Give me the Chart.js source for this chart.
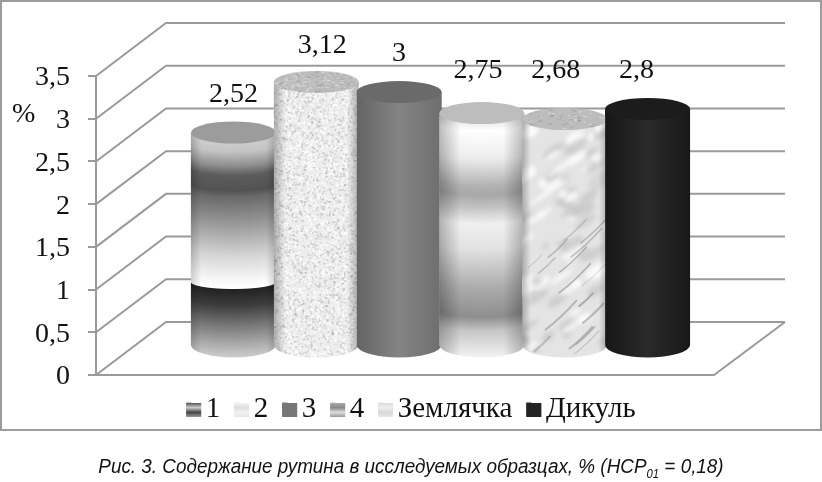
<!DOCTYPE html>
<html lang="ru">
<head>
<meta charset="utf-8">
<title>Содержание рутина</title>
<script src="https://cdn.jsdelivr.net/npm/chart.js@4"></script>
<style>
  html, body { margin: 0; padding: 0; background: #fff; }
  #page { position: relative; width: 822px; height: 482px; overflow: hidden; }
  #frame { position: absolute; left: 0; top: 0; width: 818px; height: 427px; border: 2px solid #9c9c9c; }
  #chart { position: absolute; left: 0; top: 0; }
  #caption {
    position: absolute; left: 0; width: 822px; top: 455px; text-align: center; white-space: nowrap;
    font: italic 20px "Liberation Sans", sans-serif; color: #111;
    transform: scaleX(0.944); transform-origin: 411px 0;
  }
  #caption sub { font-size: 12px; line-height: 0; }
</style>
</head>
<body>
<div id="page">
  <div id="frame"></div>
  <canvas id="chart" width="822" height="482"></canvas>
  <div id="caption">Рис. 3. Содержание рутина в исследуемых образцах, % (НСР<sub>01</sub> = 0,18)</div>
</div>
<script>
// ---------------------------------------------------------------------------
// Data
// ---------------------------------------------------------------------------
const seriesNames = ["1", "2", "3", "4", "Землячка", "Дикуль"];
const seriesValues = [2.52, 3.12, 3, 2.75, 2.68, 2.8];
const flatColors = ["#8a8a8a", "#e6e6e6", "#787878", "#c4c4c4", "#e2e2e2", "#242424"];
const axisMin = 0;
const axisMax = 3.5;
const axisStep = 0.5;

// ---------------------------------------------------------------------------
// 3D look
// ---------------------------------------------------------------------------
const SERIF = '"Liberation Serif", serif';
const GRID = "#9a9a9a";
const DEPTH_X = 70, DEPTH_Y = 53;   // back wall offset from the front axis
const FLOOR_END = 71;               // floor front edge stops this far before the wall end
const TOP_RY = 11, BOTTOM_RY = 12.5;
const BAR_DEPTH = 30;               // cylinders stand this far behind the front axis
const labelShift = [[0, -31], [6, -29], [0, -31], [-4, -35], [-9, -41], [-11, -31]];

// stops are px below the cap centre, measured at the edge of the cylinder
const BANDS_1 = [[0, "#cfcfcf"], [12, "#c4c4c4"], [26, "#8f8f8f"], [36, "#5c5c5c"], [51, "#525252"], [58, "#6a6a6a"],
  [81, "#929292"], [116, "#d4d4d4"], [141, "#f8f8f8"], [149, "#ffffff"], [150, "#222222"], [166, "#3c3c3c"],
  [186, "#777777"], [211, "#bbbbbb"], [226, "#e0e0e0"]];
const BANDS_4 = [[0, "#e4e4e4"], [12, "#ffffff"], [40, "#ececec"], [68, "#b0b0b0"], [76, "#a8a8a8"], [88, "#c2c2c2"],
  [105, "#f0f0f0"], [130, "#e2e2e2"], [170, "#aaaaaa"], [198, "#8e8e8e"], [212, "#c6c6c6"], [238, "#f2f2f2"], [256, "#f6f6f6"]];

function seeded(seed) {
  let s = seed;
  return () => { s = (s * 1664525 + 1013904223) % 4294967296; return s / 4294967296; };
}

function bodyPath(ctx, b) {
  ctx.beginPath();
  ctx.moveTo(b.cx - b.rx, b.top);
  ctx.lineTo(b.cx - b.rx, b.bottom);
  ctx.ellipse(b.cx, b.bottom, b.rx, BOTTOM_RY, 0, Math.PI, 0, true);
  ctx.lineTo(b.cx + b.rx, b.top);
  ctx.closePath();
}

function sideShade(ctx, b, edge, inner) {
  const g = ctx.createLinearGradient(b.cx - b.rx, 0, b.cx + b.rx, 0);
  g.addColorStop(0, `rgba(0,0,0,${edge})`);
  g.addColorStop(inner, "rgba(0,0,0,0)");
  g.addColorStop(1 - inner, "rgba(0,0,0,0)");
  g.addColorStop(1, `rgba(0,0,0,${edge})`);
  ctx.fillStyle = g;
  ctx.fillRect(b.cx - b.rx, b.top - 2, b.rx * 2, b.bottom - b.top + BOTTOM_RY + 4);
}

function paintBands(ctx, b, stops, curve) {
  const span = stops[stops.length - 1][0];
  for (let x = Math.floor(b.cx - b.rx); x < b.cx + b.rx; x++) {
    const u = Math.min(1, Math.abs(x + 0.5 - b.cx) / b.rx);
    const y0 = b.top + curve * Math.sqrt(1 - u * u);
    const g = ctx.createLinearGradient(0, y0, 0, y0 + span);
    stops.forEach(s => g.addColorStop(s[0] / span, s[1]));
    ctx.fillStyle = g;
    ctx.fillRect(x, b.top - 2, 1, b.bottom - b.top + BOTTOM_RY + 4);
  }
}

function paintGranite(ctx, b) {
  ctx.fillStyle = "#ececec";
  ctx.fillRect(b.cx - b.rx, b.top - 2, b.rx * 2, b.bottom - b.top + BOTTOM_RY + 4);
  const rnd = seeded(17);
  ctx.filter = "blur(0.6px)";
  for (let i = 0; i < 5200; i++) {
    const x = b.cx - b.rx + rnd() * b.rx * 2;
    const y = b.top + rnd() * (b.bottom - b.top + BOTTOM_RY);
    const v = rnd();
    ctx.fillStyle = v < 0.4 ? "rgba(165,165,165,0.4)" : "rgba(255,255,255,0.75)";
    ctx.fillRect(x, y, 1 + rnd() * 1.2, 1 + rnd() * 1.2);
  }
  ctx.filter = "none";
  sideShade(ctx, b, 0.28, 0.14);
}

function paintMarble(ctx, b) {
  ctx.fillStyle = "#e4e4e4";
  ctx.fillRect(b.cx - b.rx, b.top - 2, b.rx * 2, b.bottom - b.top + BOTTOM_RY + 4);
  const h = b.bottom - b.top + BOTTOM_RY;
  const rnd = seeded(91);
  ctx.filter = "blur(2px)";
  for (let i = 0; i < 80; i++) {
    const x = b.cx - b.rx + rnd() * b.rx * 2;
    const y = b.top + rnd() * h;
    ctx.fillStyle = rnd() < 0.45 ? "rgba(175,175,175,0.4)" : "rgba(255,255,255,0.75)";
    ctx.beginPath();
    ctx.ellipse(x, y, 4 + rnd() * 10, 2 + rnd() * 4, -0.6, 0, Math.PI * 2);
    ctx.fill();
  }
  ctx.filter = "blur(0.7px)";
  ctx.lineCap = "round";
  for (let i = 0; i < 16; i++) {
    const x = b.cx - b.rx + rnd() * b.rx * 1.6;
    const y = b.top + h * 0.5 + rnd() * h * 0.5;
    const len = 14 + rnd() * 30;
    ctx.strokeStyle = `rgba(140,140,140,${0.3 + rnd() * 0.35})`;
    ctx.lineWidth = 0.8 + rnd() * 1.4;
    ctx.beginPath();
    ctx.moveTo(x, y);
    ctx.quadraticCurveTo(x + len * 0.4, y - len * 0.3, x + len * 0.8, y - len * 0.75);
    ctx.stroke();
  }
  ctx.filter = "none";
  sideShade(ctx, b, 0.25, 0.1);
}

function paintHorizontal(ctx, b, edgeL, mid, edgeR) {
  const g = ctx.createLinearGradient(b.cx - b.rx, 0, b.cx + b.rx, 0);
  g.addColorStop(0, edgeL);
  g.addColorStop(0.5, mid);
  g.addColorStop(1, edgeR);
  ctx.fillStyle = g;
  ctx.fillRect(b.cx - b.rx, b.top - 2, b.rx * 2, b.bottom - b.top + BOTTOM_RY + 4);
}

function capStreaks(ctx, b, seed, count, dark) {
  const rnd = seeded(seed);
  ctx.save();
  ctx.beginPath();
  ctx.ellipse(b.cx, b.top, b.rx, TOP_RY, 0, 0, Math.PI * 2);
  ctx.clip();
  ctx.filter = "blur(0.5px)";
  for (let i = 0; i < count; i++) {
    const x = b.cx - b.rx + rnd() * b.rx * 2;
    const y = b.top - TOP_RY + rnd() * TOP_RY * 2;
    ctx.fillStyle = rnd() < 0.5 ? dark : "rgba(255,255,255,0.35)";
    ctx.fillRect(x, y, 1 + rnd() * 3, 1);
  }
  ctx.restore();
}

const painters = [
  (ctx, b) => { paintBands(ctx, b, BANDS_1, 7); sideShade(ctx, b, 0.18, 0.12); },
  paintGranite,
  (ctx, b) => paintHorizontal(ctx, b, "#646464", "#848484", "#6e6e6e"),
  (ctx, b) => { paintBands(ctx, b, BANDS_4, 6); sideShade(ctx, b, 0.26, 0.25); },
  paintMarble,
  (ctx, b) => paintHorizontal(ctx, b, "#161616", "#2a2a2a", "#181818"),
];
const capColors = ["#9c9c9c", "#bdbdbd", "#6a6a6a", "#bdbdbd", "#bcbcbc", "#1c1c1c"];
const swatchStops = [
  ["#555", "#ccc", "#444", "#999"],
  ["#f2f2f2", "#dddddd", "#f2f2f2", "#e6e6e6"],
  ["#777", "#777", "#777", "#777"],
  ["#aaa", "#888", "#ddd", "#999"],
  ["#dcdcdc", "#eeeeee", "#d8d8d8", "#e8e8e8"],
  ["#232323", "#232323", "#232323", "#232323"],
];

// ---------------------------------------------------------------------------
// Plugins
// ---------------------------------------------------------------------------
const wallPlugin = {
  id: "wall",
  beforeDatasetsDraw(chart) {
    const { ctx, chartArea: area, scales: { y } } = chart;
    ctx.save();
    ctx.strokeStyle = GRID;
    ctx.lineWidth = 2;
    y.ticks.forEach(t => {
      const py = y.getPixelForValue(t.value);
      ctx.beginPath();
      ctx.moveTo(area.left, py);
      ctx.lineTo(area.left + DEPTH_X, py - DEPTH_Y);
      ctx.lineTo(area.right, py - DEPTH_Y);
      ctx.stroke();
    });
    const floorY = y.getPixelForValue(axisMin);
    ctx.beginPath();
    ctx.moveTo(area.left, floorY);
    ctx.lineTo(area.right - FLOOR_END, floorY);
    ctx.lineTo(area.right, floorY - DEPTH_Y);
    ctx.stroke();
    ctx.restore();
  },
};

const cylinderPlugin = {
  id: "cylinders",
  afterDatasetsDraw(chart) {
    const ctx = chart.ctx;
    seriesValues.forEach((v, i) => {
      const el = chart.getDatasetMeta(i).data[0];
      const b = { cx: el.x, rx: el.width / 2, top: el.y, bottom: el.base };
      ctx.save();
      bodyPath(ctx, b);
      ctx.clip();
      painters[i](ctx, b);
      ctx.restore();
      ctx.save();
      ctx.fillStyle = capColors[i];
      ctx.beginPath();
      ctx.ellipse(b.cx, b.top, b.rx, TOP_RY, 0, 0, Math.PI * 2);
      ctx.fill();
      ctx.restore();
      if (i === 1) capStreaks(ctx, b, 5, 260, "rgba(130,130,130,0.25)");
      if (i === 4) capStreaks(ctx, b, 8, 90, "rgba(110,110,110,0.3)");
    });
  },
  afterDraw(chart) {
    const ctx = chart.ctx;
    // value labels, decimal comma
    ctx.save();
    ctx.font = `28px ${SERIF}`;
    ctx.fillStyle = "#111";
    ctx.textAlign = "center";
    ctx.textBaseline = "alphabetic";
    seriesValues.forEach((v, i) => {
      const el = chart.getDatasetMeta(i).data[0];
      ctx.fillText(String(v).replace(".", ","), el.x + labelShift[i][0], el.y + labelShift[i][1]);
    });
    ctx.textAlign = "left";
    ctx.fillText("%", 12, 122);
    // legend swatches
    chart.legend.legendHitBoxes.forEach((box, i) => {
      const x = box.left, y = box.top + 8, w = 15, h = 14;
      const g = ctx.createLinearGradient(0, y, 0, y + h);
      swatchStops[i].forEach((c, k) => g.addColorStop(k / 3, c));
      ctx.fillStyle = g;
      ctx.fillRect(x, y, w, h);
    });
    ctx.restore();
  },
};

// ---------------------------------------------------------------------------
// Chart
// ---------------------------------------------------------------------------
new Chart(document.getElementById("chart"), {
  type: "bar",
  data: {
    labels: [""],
    datasets: seriesNames.map((name, i) => ({
      label: name,
      data: [seriesValues[i]],
      backgroundColor: flatColors[i],
      yAxisID: "depth",
      categoryPercentage: 0.7213,
      barPercentage: 1.026,
    })),
  },
  options: {
    responsive: false,
    animation: false,
    layout: { padding: { left: 17, right: 17, top: 76, bottom: 48 } },
    plugins: {
      tooltip: { enabled: false },
      legend: {
        position: "bottom",
        labels: {
          font: { family: SERIF, size: 29 },
          color: "#111",
          boxWidth: 5,
          boxHeight: 14,
          padding: 14,
        },
      },
    },
    scales: {
      x: {
        display: true,
        grid: { display: false, drawTicks: false },
        border: { display: false },
        ticks: { display: false },
        afterFit: s => { s.height = 6; },
      },
      y: {
        min: axisMin,
        max: axisMax,
        position: "left",
        border: { color: GRID, width: 2 },
        grid: { drawOnChartArea: false, drawTicks: true, tickLength: 8, color: GRID, lineWidth: 2 },
        ticks: {
          stepSize: axisStep,
          padding: 18,
          labelOffset: 2,
          color: "#111",
          font: { family: SERIF, size: 28 },
          callback: v => String(v).replace(".", ","),
        },
      },
      // same plot height, floor moved back by the depth of the box
      depth: {
        display: true,
        position: "right",
        grid: { display: false, drawTicks: false },
        border: { display: false },
        ticks: { display: false },
        afterFit: s => { s.width = 20; },
        min: -BAR_DEPTH / 84,
        max: (298 - BAR_DEPTH) / 84,
      },
    },
  },
  plugins: [wallPlugin, cylinderPlugin],
});
</script>
</body>
</html>
